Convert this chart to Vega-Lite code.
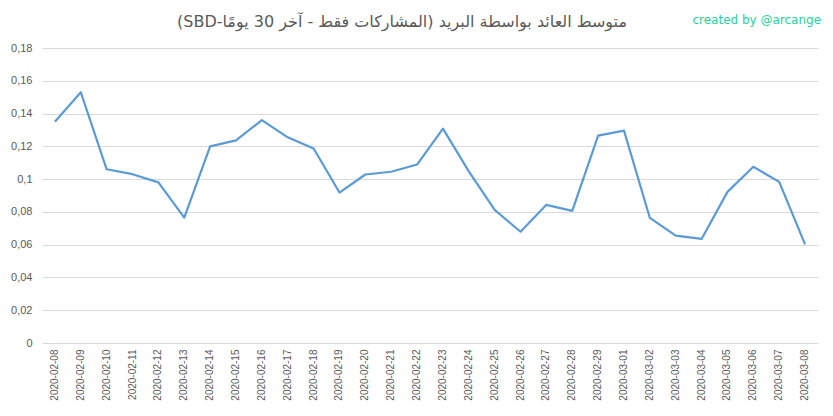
{
  "$schema": "https://vega.github.io/schema/vega-lite/v6.json",
  "width": 776,
  "height": 295,
  "autosize": {"type": "none"},
  "padding": {"left": 42, "top": 48, "right": 15, "bottom": 73},
  "background": "white",
  "config": {
    "font": "Liberation Sans",
    "view": {"stroke": null},
    "locale": {"number": {"decimal": ",", "thousands": ".", "grouping": [3], "currency": ["", ""]}}
  },
  "title": {
    "text": "\u202bمتوسط العائد بواسطة البريد (المشاركات فقط - آخر 30 يومًا-SBD)\u202c",
    "anchor": "middle",
    "frame": "group",
    "dx": -28,
    "offset": 0,
    "dy": 16,
    "fontSize": 16,
    "fontWeight": "normal",
    "color": "#595959",
    "font": "DejaVu Sans"
  },
  "datasets": {
    "series": [
      {"date": "2020-02-08", "value": 0.135},
      {"date": "2020-02-09", "value": 0.153},
      {"date": "2020-02-10", "value": 0.106},
      {"date": "2020-02-11", "value": 0.103},
      {"date": "2020-02-12", "value": 0.098},
      {"date": "2020-02-13", "value": 0.0765},
      {"date": "2020-02-14", "value": 0.120},
      {"date": "2020-02-15", "value": 0.1236},
      {"date": "2020-02-16", "value": 0.136},
      {"date": "2020-02-17", "value": 0.1255},
      {"date": "2020-02-18", "value": 0.1187},
      {"date": "2020-02-19", "value": 0.0918},
      {"date": "2020-02-20", "value": 0.1028},
      {"date": "2020-02-21", "value": 0.1045},
      {"date": "2020-02-22", "value": 0.1089},
      {"date": "2020-02-23", "value": 0.1308},
      {"date": "2020-02-24", "value": 0.1047},
      {"date": "2020-02-25", "value": 0.0812},
      {"date": "2020-02-26", "value": 0.0679},
      {"date": "2020-02-27", "value": 0.0843},
      {"date": "2020-02-28", "value": 0.0806},
      {"date": "2020-02-29", "value": 0.1265},
      {"date": "2020-03-01", "value": 0.1296},
      {"date": "2020-03-02", "value": 0.0763},
      {"date": "2020-03-03", "value": 0.0655},
      {"date": "2020-03-04", "value": 0.0635},
      {"date": "2020-03-05", "value": 0.0922},
      {"date": "2020-03-06", "value": 0.1075},
      {"date": "2020-03-07", "value": 0.0983},
      {"date": "2020-03-08", "value": 0.0602}
    ],
    "credit": [{"label": "created by @arcange", "date": "2020-03-08", "value": 0.197}]
  },
  "encoding": {
    "x": {
      "field": "date",
      "type": "ordinal",
      "scale": {"type": "band", "paddingInner": 0, "paddingOuter": 0},
      "axis": {
        "title": null,
        "labelAngle": -90,
        "labelFontSize": 10,
        "labelColor": "#595959",
        "labelPadding": 6,
        "labelOverlap": false,
        "domain": false,
        "ticks": false,
        "grid": false
      }
    },
    "y": {
      "field": "value",
      "type": "quantitative",
      "scale": {"domain": [0, 0.18], "nice": false, "zero": true},
      "axis": {
        "title": null,
        "values": [0, 0.02, 0.04, 0.06, 0.08, 0.1, 0.12, 0.14, 0.16, 0.18],
        "format": ".2~f",
        "labelFontSize": 11,
        "labelColor": "#595959",
        "labelPadding": 10,
        "labelOverlap": false,
        "labelBound": false,
        "domain": false,
        "ticks": false,
        "grid": true,
        "gridColor": "#d9d9d9",
        "gridWidth": 1
      }
    }
  },
  "layer": [
    {
      "data": {"name": "series"},
      "mark": {"type": "line", "color": "#5b9bd5", "strokeWidth": 2.2, "strokeJoin": "round"}
    },
    {
      "data": {"name": "credit"},
      "mark": {"type": "text", "align": "right", "baseline": "middle", "dx": 16, "fontSize": 12, "color": "#1fd39c", "font": "DejaVu Sans"},
      "encoding": {
        "text": {"field": "label"}
      }
    }
  ]
}
